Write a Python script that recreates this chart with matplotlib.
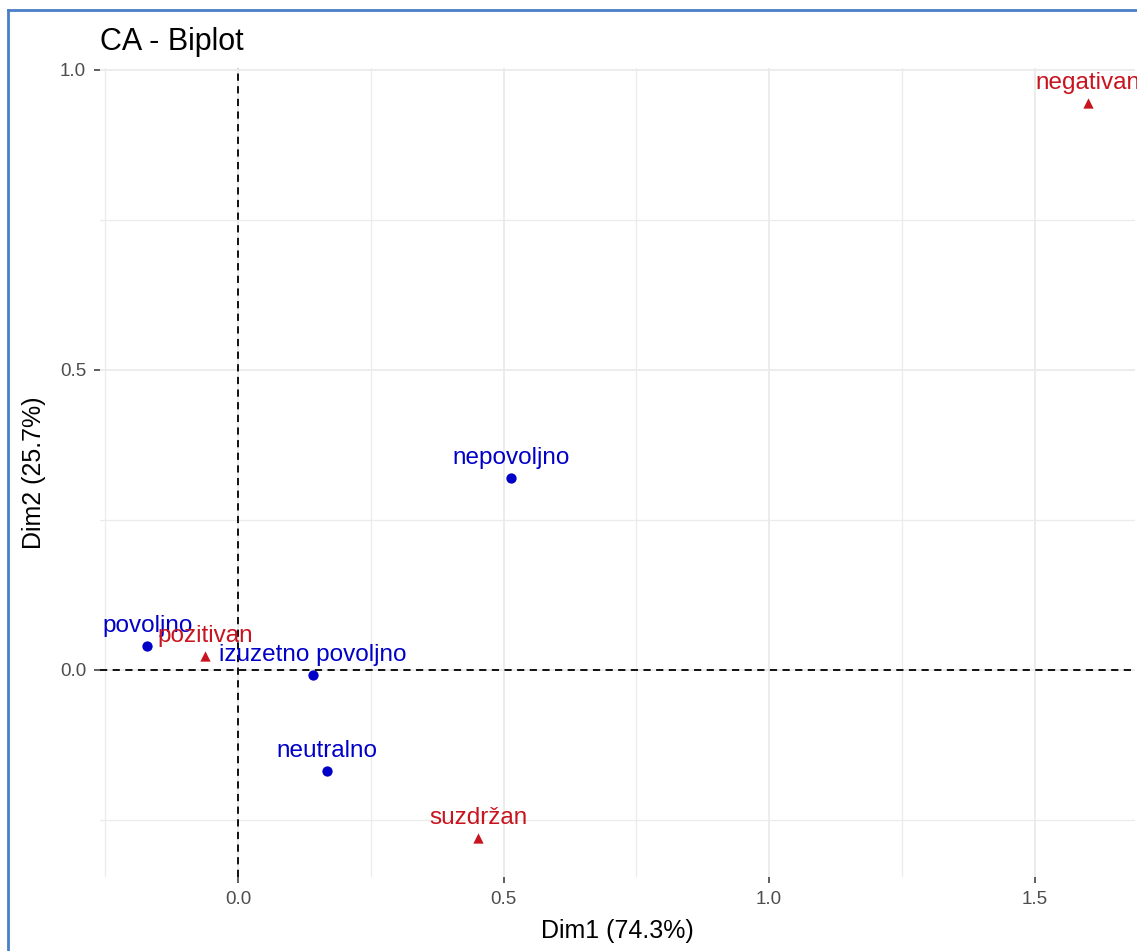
import matplotlib
matplotlib.use("Agg")
import matplotlib.pyplot as plt
from matplotlib.lines import Line2D

plt.rcParams['font.family'] = ['Liberation Sans', 'DejaVu Sans']

# Row points (blue circles)
row_names = ["povoljno", "izuzetno povoljno", "neutralno", "nepovoljno"]
row_dim1 = [-0.171, 0.141, 0.168, 0.514]
row_dim2 = [0.040, -0.008, -0.168, 0.320]

# Column points (red triangles)
col_names = ["pozitivan", "suzdržan", "negativan"]
col_dim1 = [-0.062, 0.452, 1.601]
col_dim2 = [0.023, -0.280, 0.945]

x_ticks = [0.0, 0.5, 1.0, 1.5]
y_ticks = [0.0, 0.5, 1.0]
x_minor = [-0.25, 0.25, 0.75, 1.25]
y_minor = [-0.25, 0.25, 0.75]

BLUE = "#0000C8"
RED = "#C8141E"
GRID = "#EBEBEB"
TICKC = "#4D4D4D"

fig = plt.figure(figsize=(11.37, 9.51), dpi=100)
ax = fig.add_axes([100/1137, 1-877/951, (1135-100)/1137, (877-68)/951])

ax.set_xlim(-0.26, 1.689)
ax.set_ylim(-0.345, 1.003)

for s in ax.spines.values():
    s.set_visible(False)

ax.set_xticks(x_ticks)
ax.set_yticks(y_ticks)
ax.set_xticks(x_minor, minor=True)
ax.set_yticks(y_minor, minor=True)
ax.set_xticklabels([f"{v:.1f}" for v in x_ticks])
ax.set_yticklabels([f"{v:.1f}" for v in y_ticks])
ax.tick_params(axis='both', which='major', length=4, width=1.1, color="#333333",
               labelsize=13.5, labelcolor=TICKC, pad=6)
ax.tick_params(axis='both', which='minor', length=0)
ax.grid(True, which='major', color=GRID, linewidth=1.3, zorder=0)
ax.grid(True, which='minor', color=GRID, linewidth=0.9, zorder=0)
ax.set_axisbelow(True)

ax.axhline(0, color="black", linestyle=(0, (4, 3)), linewidth=1.3, zorder=1)
ax.axvline(0, color="black", linestyle=(0, (4, 3)), linewidth=1.3, zorder=1)

ax.scatter(row_dim1, row_dim2, s=55, marker='o', color=BLUE, zorder=3, linewidths=0)
ax.scatter(col_dim1, col_dim2, s=55, marker='^', color=RED, zorder=3, linewidths=0)

for n, x, y in zip(row_names, row_dim1, row_dim2):
    ax.annotate(n, (x, y), xytext=(0, 10), textcoords='offset points',
                ha='center', va='baseline', fontsize=17.5, color=BLUE, zorder=4,
                annotation_clip=False)
for n, x, y in zip(col_names, col_dim1, col_dim2):
    ax.annotate(n, (x, y), xytext=(0, 10), textcoords='offset points',
                ha='center', va='baseline', fontsize=17.5, color=RED, zorder=4,
                annotation_clip=False)

ax.set_xlabel("Dim1 (74.3%)", fontsize=18, color="black", labelpad=8)
ax.set_ylabel("Dim2 (25.7%)", fontsize=18, color="black", labelpad=10)

fig.text(100/1137, 1-42/951, "CA - Biplot", fontsize=22, color="black",
         ha='left', va='center')

# screenshot frame
fig.add_artist(Line2D([8/1137, 8/1137], [0, 1-10/951], transform=fig.transFigure,
                      color="#4A7EC8", linewidth=2))
fig.add_artist(Line2D([8/1137, 1], [1-10/951, 1-10/951], transform=fig.transFigure,
                      color="#4A7EC8", linewidth=2))

fig.savefig("out.png", dpi=100)
